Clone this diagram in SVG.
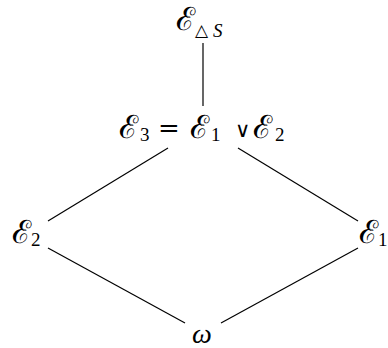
<svg xmlns="http://www.w3.org/2000/svg" width="388" height="348" viewBox="0 0 388 348">
<style>
.m{font-family:"DejaVu Serif","Liberation Serif",serif;font-size:26px;fill:#000}
.e{font-family:"DejaVu Serif","Liberation Serif",serif;font-size:32px;fill:#000}
.s{font-family:"Liberation Serif","DejaVu Serif",serif;font-size:19px;fill:#000}
.t{font-family:"DejaVu Sans",sans-serif;font-size:17px;fill:#000}
.v{font-family:"DejaVu Sans",sans-serif;font-size:21px;fill:#000}
.w{font-family:"Liberation Serif","DejaVu Serif",serif;font-size:28px;font-style:italic;fill:#000}
.i{font-style:italic}
.c line{stroke:#000;stroke-width:1.2;fill:none}
</style>
<rect width="388" height="348" fill="#fff"/>
<g class="c" id="connectors">
<line x1="203" y1="43" x2="203" y2="106"/>
<line x1="168" y1="148" x2="48" y2="221"/>
<line x1="238" y1="148" x2="358" y2="221"/>
<line x1="48" y1="248" x2="185" y2="323"/>
<line x1="358" y1="248" x2="221" y2="323"/>
</g>
<g id="top">
<text class="e" x="176" y="30">ℰ</text>
<text class="t" x="195" y="36">△</text>
<text class="s i" x="213" y="37">S</text>
</g>
<g id="mid">
<text class="e" x="119" y="138">ℰ</text>
<text class="s" x="140" y="141">3</text>
<text class="m" x="158" y="137">=</text>
<text class="e" x="190" y="138">ℰ</text>
<text class="s" x="211" y="141">1</text>
<text class="v" x="235" y="137">∨</text>
<text class="e" x="253" y="138">ℰ</text>
<text class="s" x="275" y="141">2</text>
</g>
<g id="e2">
<text class="e" x="12" y="243">ℰ</text>
<text class="s" x="31" y="246">2</text>
</g>
<g id="e1">
<text class="e" x="359" y="243">ℰ</text>
<text class="s" x="378" y="246">1</text>
</g>
<g id="omega">
<text class="w" x="192" y="343">ω</text>
</g>
</svg>
